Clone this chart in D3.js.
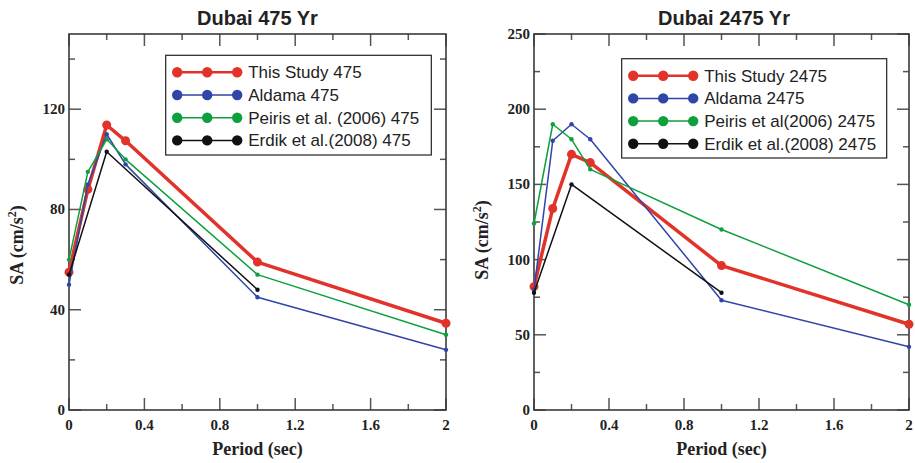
<!DOCTYPE html>
<html>
<head>
<meta charset="utf-8">
<script src="https://cdn.jsdelivr.net/npm/d3@7"></script>
<style>
  html, body { margin: 0; padding: 0; background: #fff; }
  svg { display: block; }
</style>
</head>
<body>
<svg id="chart" width="915" height="463"></svg>
<script>
// ---------- DATA ----------
const periodsFull = [0, 0.1, 0.2, 0.3, 1, 2];
const periodsErdik = [0, 0.2, 1];

const this475   = [55, 88, 113.7, 107.4, 59, 34.6];
const aldama475 = [50, 90, 110, 98, 45, 24];
const peiris475 = [60, 95, 108, 100, 54, 30];
const erdik475  = [54, 103, 48];

const this2475   = [82, 134, 170, 164.5, 96, 57];
const aldama2475 = [80, 179, 190, 180, 73, 42];
const peiris2475 = [124, 190, 180, 160, 120, 70];
const erdik2475  = [78, 150, 78];

const legend475  = ["This Study 475", "Aldama 475", "Peiris et al. (2006) 475", "Erdik et al.(2008) 475"];
const legend2475 = ["This Study 2475", "Aldama 2475", "Peiris et al(2006) 2475", "Erdik et al.(2008) 2475"];

const xTicks = [0, 0.4, 0.8, 1.2, 1.6, 2];
const xTickLabels = ["0", "0.4", "0.8", "1.2", "1.6", "2"];
const yTicks475 = [0, 40, 80, 120];
const yTicks2475 = [0, 50, 100, 150, 200, 250];

// ---------- STYLE ----------
const colors = ["#e2332a", "#2f45a8", "#0e9f3e", "#111111"];
const lineW = [3.5, 1.5, 1.5, 1.5];
const markR = [4.5, 2.2, 2.2, 2.2];
const frameColor = "#3a3a3a";

const svg = d3.select("#chart");

function panel(opt) {
  const g = svg.append("g");
  const x = d3.scaleLinear().domain([0, 2]).range([opt.x0, opt.x1]);
  const y = d3.scaleLinear().domain([0, opt.yMax]).range([opt.y1, opt.y0]);

  // ticks (inward, mirrored)
  const xMinor = d3.range(0, 2.0001, 0.2);
  const yMinor = d3.range(0, opt.yMax + 0.001, opt.yMinorStep);
  const major = 12, minor = 6;
  const isMajorX = v => Math.abs(v / 0.4 - Math.round(v / 0.4)) < 1e-6;
  const isMajorY = v => Math.abs(v / opt.yMajorStep - Math.round(v / opt.yMajorStep)) < 1e-6;
  const tg = g.append("g").attr("stroke", "#555").attr("stroke-width", 1.5);
  xMinor.forEach(v => {
    const L = isMajorX(v) ? major : minor;
    tg.append("line").attr("x1", x(v)).attr("x2", x(v)).attr("y1", opt.y1).attr("y2", opt.y1 - L);
    tg.append("line").attr("x1", x(v)).attr("x2", x(v)).attr("y1", opt.y0).attr("y2", opt.y0 + L);
  });
  yMinor.forEach(v => {
    const L = isMajorY(v) ? major : minor;
    tg.append("line").attr("y1", y(v)).attr("y2", y(v)).attr("x1", opt.x0).attr("x2", opt.x0 + L);
    tg.append("line").attr("y1", y(v)).attr("y2", y(v)).attr("x1", opt.x1).attr("x2", opt.x1 - L);
  });

  // frame
  g.append("rect")
    .attr("x", opt.x0).attr("y", opt.y0)
    .attr("width", opt.x1 - opt.x0).attr("height", opt.y1 - opt.y0)
    .attr("fill", "none").attr("stroke", frameColor).attr("stroke-width", 1.6);

  // tick labels
  const serif = "'Liberation Serif', 'Times New Roman', serif";
  g.selectAll(".xl").data(xTicks).join("text")
    .attr("x", d => x(d)).attr("y", opt.y1 + 20)
    .attr("text-anchor", "middle")
    .attr("font-family", serif).attr("font-weight", "bold").attr("font-size", 15)
    .attr("fill", "#222")
    .text((d, i) => xTickLabels[i]);
  g.selectAll(".yl").data(opt.yTicks).join("text")
    .attr("x", opt.x0 - 4).attr("y", d => y(d) + 5)
    .attr("text-anchor", "end")
    .attr("font-family", serif).attr("font-weight", "bold").attr("font-size", 15)
    .attr("fill", "#222")
    .text(d => d);

  // axis titles
  g.append("text")
    .attr("x", (opt.x0 + opt.x1) / 2).attr("y", 455)
    .attr("text-anchor", "middle")
    .attr("font-family", serif).attr("font-weight", "bold").attr("font-size", 18)
    .attr("fill", "#222")
    .text("Period (sec)");
  const yl = g.append("text")
    .attr("transform", `translate(${opt.ylx},${opt.yly}) rotate(-90)`)
    .attr("text-anchor", "middle")
    .attr("font-family", serif).attr("font-weight", "bold").attr("font-size", 18)
    .attr("fill", "#222");
  yl.append("tspan").text("SA (cm/s");
  yl.append("tspan").attr("font-size", 12).attr("dy", -7).text("2");
  yl.append("tspan").attr("dy", 7).text(")");

  // title
  g.append("text")
    .attr("x", opt.titleX).attr("y", 25)
    .attr("text-anchor", "middle")
    .attr("font-family", "'Liberation Sans', Arial, sans-serif")
    .attr("font-weight", "bold").attr("font-size", 20)
    .attr("fill", "#222")
    .text(opt.title);

  // series
  const line = d3.line().x(d => x(d[0])).y(d => y(d[1]));
  opt.series.forEach((s, i) => {
    const pts = s.periods.map((p, k) => [p, s.values[k]]);
    g.append("path").datum(pts)
      .attr("d", line).attr("fill", "none")
      .attr("stroke", colors[i]).attr("stroke-width", lineW[i])
      .attr("stroke-linejoin", "round");
    g.selectAll(null).data(pts).join("circle")
      .attr("cx", d => x(d[0])).attr("cy", d => y(d[1]))
      .attr("r", markR[i]).attr("fill", colors[i]);
  });

  // legend
  const lg = g.append("g");
  lg.append("rect")
    .attr("x", opt.lx).attr("y", opt.ly)
    .attr("width", opt.lw).attr("height", opt.lh)
    .attr("fill", "#fff").attr("stroke", "#222").attr("stroke-width", 1.2);
  opt.legend.forEach((t, i) => {
    const cy = opt.ly + 17 + i * 22.7;
    const mx = [opt.lx + 11.5, opt.lx + 41.5, opt.lx + 71.5];
    lg.append("line").attr("x1", mx[0]).attr("x2", mx[2]).attr("y1", cy).attr("y2", cy)
      .attr("stroke", colors[i]).attr("stroke-width", i === 0 ? 2.5 : 1.5);
    mx.forEach(m => lg.append("circle").attr("cx", m).attr("cy", cy).attr("r", 5.2).attr("fill", colors[i]));
    lg.append("text").attr("x", opt.lx + 82.5).attr("y", cy + 6)
      .attr("font-family", "'Liberation Sans', Arial, sans-serif").attr("font-size", 17)
      .attr("fill", "#222").text(t);
  });
}

panel({
  x0: 69, x1: 446, y0: 34, y1: 410, yMax: 150, yMajorStep: 40, yMinorStep: 20,
  yTicks: yTicks475, title: "Dubai 475 Yr", titleX: 257.5, ylx: 23, yly: 245,
  lx: 165.7, ly: 55.3, lw: 265.6, lh: 99.7, legend: legend475,
  series: [
    { periods: periodsFull, values: this475 },
    { periods: periodsFull, values: aldama475 },
    { periods: periodsFull, values: peiris475 },
    { periods: periodsErdik, values: erdik475 }
  ]
});

panel({
  x0: 534, x1: 909, y0: 34, y1: 410, yMax: 250, yMajorStep: 50, yMinorStep: 25,
  yTicks: yTicks2475, title: "Dubai 2475 Yr", titleX: 724, ylx: 488, yly: 240,
  lx: 621.7, ly: 58.7, lw: 265, lh: 99.3, legend: legend2475,
  series: [
    { periods: periodsFull, values: this2475 },
    { periods: periodsFull, values: aldama2475 },
    { periods: periodsFull, values: peiris2475 },
    { periods: periodsErdik, values: erdik2475 }
  ]
});
</script>
</body>
</html>
